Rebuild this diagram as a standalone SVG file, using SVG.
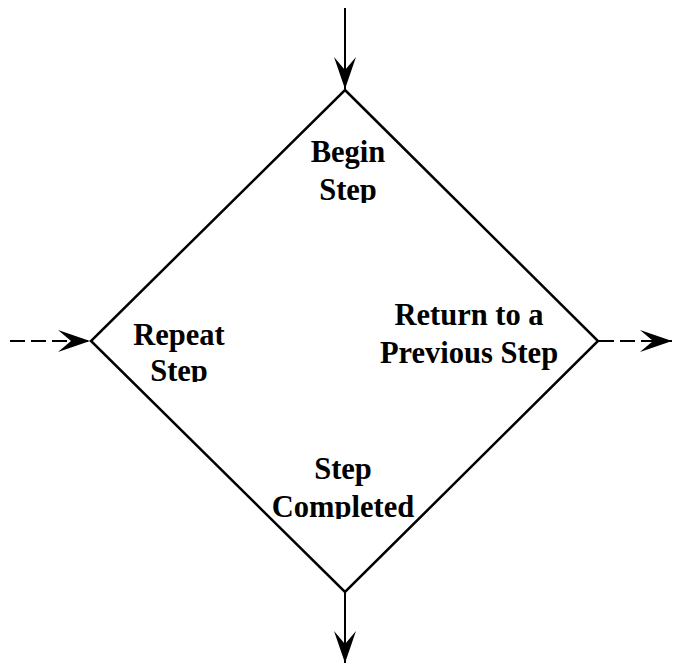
<svg xmlns="http://www.w3.org/2000/svg" width="673" height="665" viewBox="0 0 673 665">
<style>
.lbl{font-family:"Liberation Serif","Times New Roman",serif;font-weight:bold;font-size:30.5px;fill:#000;text-anchor:middle}
.edge{stroke:#000;stroke-width:2;fill:none}
.dash{stroke-dasharray:15,6}
</style>
<defs>
<marker id="ah" viewBox="0 0 32 22" refX="32" refY="11" markerWidth="32" markerHeight="22" markerUnits="userSpaceOnUse" orient="auto">
<path d="M0,0 L32,11 L0,22 L13,11 Z" fill="#000"/>
</marker>
<clipPath id="c1"><rect x="280" y="130" width="140" height="73"/></clipPath>
<clipPath id="c2"><rect x="110" y="300" width="130" height="82"/></clipPath>
<clipPath id="c3"><rect x="250" y="440" width="200" height="79"/></clipPath>
</defs>
<g id="diamond">
<polygon points="345,90 598,341 345,592 91,341" fill="#fff" stroke="#000" stroke-width="2.5"/>
</g>
<g id="connectors">
<line class="edge" x1="345" y1="8" x2="345" y2="89" marker-end="url(#ah)"/>
<line class="edge dash" x1="10" y1="341" x2="90" y2="341" marker-end="url(#ah)"/>
<line class="edge dash" x1="599" y1="341" x2="672" y2="341" marker-end="url(#ah)"/>
<line class="edge" x1="345" y1="592" x2="345" y2="663" marker-end="url(#ah)"/>
</g>
<g id="begin-step" clip-path="url(#c1)">
<text class="lbl" x="348" y="162">Begin</text>
<text class="lbl" x="348" y="200">Step</text>
</g>
<g id="repeat-step" clip-path="url(#c2)">
<text class="lbl" x="179" y="345">Repeat</text>
<text class="lbl" x="179" y="381">Step</text>
</g>
<g id="return-step">
<text class="lbl" x="469" y="325">Return to a</text>
<text class="lbl" x="469" y="363">Previous Step</text>
</g>
<g id="step-completed" clip-path="url(#c3)">
<text class="lbl" x="343" y="479">Step</text>
<text class="lbl" x="343" y="517">Completed</text>
</g>
</svg>
